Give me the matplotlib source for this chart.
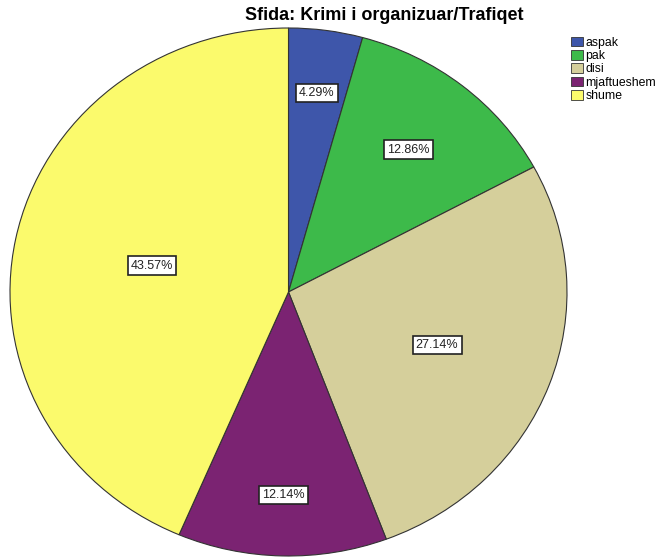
import matplotlib
matplotlib.use("Agg")
import matplotlib.pyplot as plt
from matplotlib.patches import Patch
import numpy as np

plt.rcParams['font.family'] = ['Liberation Sans', 'DejaVu Sans']

categories = ["aspak", "pak", "disi", "mjaftueshem", "shume"]
percentages = [4.29, 12.86, 27.14, 12.14, 43.57]
colors = ["#3E56AA", "#3DBA4A", "#D5CF9B", "#7B2372", "#FBFA6C"]
label_radii = [0.76, 0.69, 0.57, 0.77, 0.50]

fig = plt.figure(figsize=(6.58, 5.58), dpi=100)
ax = fig.add_axes([10/658, 2/558, 557/658, 528/558])
wedges, _ = ax.pie(percentages, colors=colors, startangle=90, counterclock=False,
                   wedgeprops=dict(edgecolor="#333333", linewidth=0.8))
ax.set_aspect('auto')
ax.set_xlim(-1.0, 1.0)
ax.set_ylim(-1.0, 1.0)
ax.axis('off')

for w, p, r in zip(wedges, percentages, label_radii):
    ang = np.deg2rad((w.theta1 + w.theta2) / 2)
    ax.text(r*np.cos(ang), r*np.sin(ang), f"{p:.2f}%", ha='center', va='center',
            fontsize=9, color='#222222',
            bbox=dict(boxstyle='square,pad=0.25', facecolor='white', edgecolor='#222222', linewidth=1.2))

fig.text(384/658, 1 - 16/558, "Sfida: Krimi i organizuar/Trafiqet", ha='center', va='center',
         fontsize=13, fontweight='bold')

handles = [Patch(facecolor=c, edgecolor='#333333', linewidth=0.6) for c in colors]
fig.legend(handles, categories, loc='upper left', bbox_to_anchor=(562/658, 1 - 28/558),
           frameon=False, fontsize=8.8, handlelength=1.0, handleheight=0.85,
           handletextpad=0.2, labelspacing=0.1, borderpad=0.2)

fig.savefig("out.png", dpi=100)
